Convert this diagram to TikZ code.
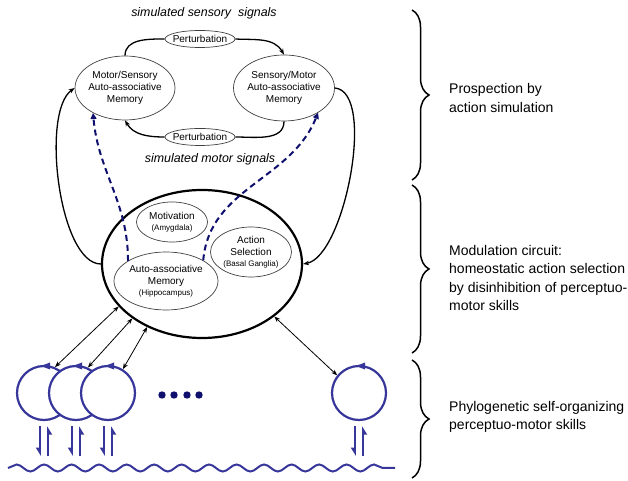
\documentclass[tikz,border=0pt]{standalone}
\usepackage{fontspec}
\setmainfont{Liberation Sans}
\usepackage{tikz}
\usetikzlibrary{shapes.geometric}
\usetikzlibrary{arrows.meta}
\usetikzlibrary{decorations.pathmorphing}
\usetikzlibrary{decorations.pathreplacing}

\definecolor{loopblue}{RGB}{55,55,155}
\definecolor{dashnavy}{RGB}{15,15,110}

\newcommand{\memtext}{\fontsize{10}{12}\selectfont}
\newcommand{\areatext}{\fontsize{8}{10}\selectfont}
\newcommand{\sidetext}{\fontsize{14}{18.5}\selectfont}
\newcommand{\signaltext}{\fontsize{12.4}{14}\selectfont\itshape}

\begin{document}
\begin{tikzpicture}[x=1pt,y=1pt,
    mem/.style={ellipse,draw=black!75,line width=0.7pt,inner xsep=-4pt,inner ysep=0pt,align=center,font=\memtext},
    loopline/.style={line width=1.3pt},
    tip/.style={-{Stealth[length=6pt,width=4.5pt]}},
    simline/.style={dashnavy,line width=2pt,dash pattern=on 6pt off 4pt,-{Triangle[length=6pt,width=6pt]}},
    biarrow/.style={line width=0.8pt,{Stealth[length=6pt,width=4.5pt]}-{Stealth[length=6pt,width=4.5pt]}},
    cyc/.style={circle,draw=loopblue,line width=2.2pt,fill=white,minimum size=54pt,inner sep=0pt},
    harp/.style={loopblue,line width=2pt,-{Triangle[right,length=7pt,width=8pt]}},
    side/.style={anchor=west,inner sep=0pt,align=left,font=\sidetext},
    sidebrace/.style={line width=1.5pt,decorate,decoration={brace,amplitude=17pt}}]
    \useasboundingbox (0,0) rectangle (628,481);

    % prospection loop
    \node[font=\signaltext] (sens) at (204,468) {simulated sensory\ \ signals};
    \node[mem,minimum width=70pt,minimum height=17pt] (ptop) at (200,442) {Perturbation};
    \node[mem,minimum width=100pt,minimum height=64pt] (msmem) at (125,393)
      {Motor/Sensory\\Auto-associative\\Memory};
    \node[mem,minimum width=101pt,minimum height=66pt] (smmem) at (284,393)
      {Sensory/Motor\\Auto-associative\\Memory};
    \node[mem,minimum width=70pt,minimum height=17pt] (pbot) at (200,344) {Perturbation};
    \node[font=\signaltext] (mot) at (210,322) {simulated motor signals};
    \draw[loopline] (msmem.north) to [out=90,in=180] (ptop.west);
    \draw[loopline,tip] (ptop.east) to [out=-3,in=120] (smmem.north);
    \draw[loopline] (smmem.south) to [out=-90,in=0] (pbot.east);
    \draw[loopline,tip] (pbot.west) to [out=180,in=-60] (msmem.south);

    % modulation circuit
    \node[ellipse,draw,line width=2.2pt,minimum width=200pt,minimum height=148pt] (big) at (202,217) {};
    \node[mem,minimum width=71pt,minimum height=40pt] (motiv) at (172,259)
      {Motivation\\[-1pt]{\areatext(Amygdala)}};
    \node[mem,minimum width=81pt,minimum height=50pt] (actsel) at (251,229)
      {Action\\Selection\\[-1pt]{\areatext(Basal Ganglia)}};
    \node[mem,minimum width=104pt,minimum height=58pt] (aamem) at (166,200)
      {Auto-associative\\Memory\\[-1pt]{\areatext(Hippocampus)}};
    \draw[loopline,tip] (big.west) to [out=180,in=215,looseness=0.6] (msmem.west);
    \draw[loopline,tip] (smmem.east) to [out=-5,in=10,looseness=0.6] (big.east);
    \draw[simline] (aamem.152) to [out=90,in=-85] (msmem.218);
    \draw[simline] (aamem.29) to [out=85,in=-112] (smmem.324);

    % perceptuo-motor skills
    \node[cyc] (c1) at (44,88) {};
    \fill[loopblue] ([xshift=-3pt,yshift=-1.1pt]c1.north) -- ++(9,3.5) -- ++(0,-7) -- cycle;
    \node[cyc] (c2) at (76,88) {};
    \fill[loopblue] ([xshift=-3pt,yshift=-1.1pt]c2.north) -- ++(9,3.5) -- ++(0,-7) -- cycle;
    \node[cyc] (c3) at (108,88) {};
    \fill[loopblue] ([xshift=-3pt,yshift=-1.1pt]c3.north) -- ++(9,3.5) -- ++(0,-7) -- cycle;
    \node[cyc] (cn) at (359,88) {};
    \fill[loopblue] ([xshift=-3pt,yshift=-1.1pt]cn.north) -- ++(9,3.5) -- ++(0,-7) -- cycle;
    \fill[dashnavy] (162,86) circle (3.7) (174,86) circle (3.7) (187,86) circle (3.7) (199,86) circle (3.7);
    \draw[biarrow] (big.207) -- (c1.67);
    \draw[biarrow] (big.218) -- (c2.65);
    \draw[biarrow] (big.229) -- (c3.58);
    \draw[biarrow] (big.324) -- (cn.141);
    \draw[harp] ([xshift=-4pt,yshift=-5pt]c1.south) -- ++(0,-30);
    \draw[harp] ([xshift=4pt,yshift=-35pt]c1.south) -- ++(0,30);
    \draw[harp] ([xshift=-4pt,yshift=-5pt]c2.south) -- ++(0,-30);
    \draw[harp] ([xshift=4pt,yshift=-35pt]c2.south) -- ++(0,30);
    \draw[harp] ([xshift=-4pt,yshift=-5pt]c3.south) -- ++(0,-30);
    \draw[harp] ([xshift=4pt,yshift=-35pt]c3.south) -- ++(0,30);
    \draw[harp] ([xshift=-4pt,yshift=-5pt]cn.south) -- ++(0,-30);
    \draw[harp] ([xshift=4pt,yshift=-35pt]cn.south) -- ++(0,30);
    \draw[loopblue,line width=2pt,decorate,decoration={snake,amplitude=3.5pt,segment length=27.5pt}]
      (8,13) -- (395,13);

    % levels
    \draw[sidebrace] (412,471) -- (412,301);
    \draw[sidebrace] (412,296) -- (412,128);
    \draw[sidebrace] (412,121) -- (412,3);
    \node[side] (prosp) at (449,383) {Prospection by\\action simulation};
    \node[side] (modul) at (449,203)
      {Modulation circuit:\\homeostatic action selection\\by disinhibition of perceptuo-\\motor skills};
    \node[side] (phylo) at (449,64) {Phylogenetic self-organizing\\perceptuo-motor skills};
\end{tikzpicture}
\end{document}
